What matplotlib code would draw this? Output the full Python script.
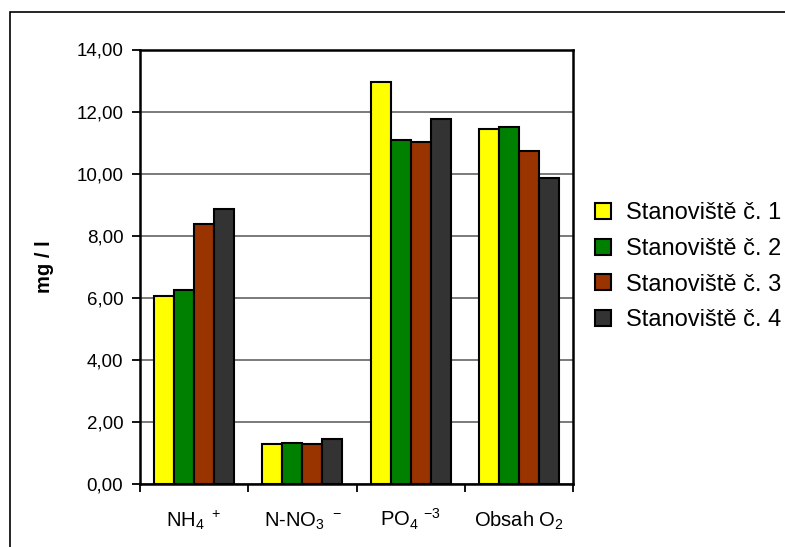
import numpy as np
import matplotlib
matplotlib.use("Agg")
from matplotlib import pyplot as plt
from matplotlib.patches import Rectangle
from matplotlib.ticker import FixedLocator

plt.rcParams['font.family'] = 'Liberation Sans'
plt.rcParams['mathtext.fontset'] = 'custom'
plt.rcParams['mathtext.rm'] = 'Liberation Sans'
plt.rcParams['mathtext.it'] = 'Liberation Sans'
plt.rcParams['mathtext.bf'] = 'Liberation Sans:bold'

categories = [r'NH$_4$ $^+$', r'N-NO$_3$ $^-$', r'PO$_4$ $^{-3}$', r'Obsah O$_2$']
series_names = ['Stanoviště č. 1', 'Stanoviště č. 2', 'Stanoviště č. 3', 'Stanoviště č. 4']
site1 = [6.05, 1.29, 12.96, 11.45]
site2 = [6.25, 1.33, 11.08, 11.51]
site3 = [8.37, 1.28, 11.03, 10.74]
site4 = [8.85, 1.45, 11.75, 9.87]
yticks = [0, 2, 4, 6, 8, 10, 12, 14]

colors = ['#FFFF00', '#008000', '#993300', '#333333']
values = [site1, site2, site3, site4]

fig = plt.figure(figsize=(7.85, 5.47), dpi=100)
ax = fig.add_axes([140 / 785, 63 / 547, 433 / 785, 434.5 / 547])

x = np.arange(len(categories))
width = 0.185
for i, vals in enumerate(values):
    ax.bar(x + (i - 1.5) * width, vals, width, color=colors[i], edgecolor='black',
           linewidth=1.5, label=series_names[i], zorder=3)

ax.set_xlim(-0.5, 3.5)
ax.set_ylim(0, 14)
ax.set_yticks(yticks)
ax.set_yticklabels([('%.2f' % v).replace('.', ',') for v in yticks])
ax.yaxis.grid(True, color='#707070', linewidth=1.3, zorder=0)
ax.set_axisbelow(True)

# category labels on a common baseline
ax.set_xticks(x)
ax.set_xticklabels([])
for xi, lab in zip(x, categories):
    ax.text(xi, -0.098, lab, transform=ax.get_xaxis_transform(), ha='center',
            va='baseline', fontsize=14.5)
ax.xaxis.set_minor_locator(FixedLocator([-0.5, 0.5, 1.5, 2.5, 3.5]))
ax.tick_params(axis='x', which='major', length=0)
ax.tick_params(axis='x', which='minor', length=6, width=1.3, direction='out')
ax.tick_params(axis='y', length=6, width=1.3, direction='out', labelsize=13.5, pad=6)

for s in ax.spines.values():
    s.set_linewidth(1.8)
    s.set_color('black')

ax.set_ylabel('mg / l', fontsize=14.5, fontweight='bold', labelpad=16)

leg = ax.legend(loc='center left', bbox_to_anchor=(1.03, 0.5), frameon=False,
                fontsize=17, handlelength=0.68, handleheight=0.68, handletextpad=0.6,
                labelspacing=0.58, borderaxespad=0)

# outer chart border
fig.patches.append(Rectangle((10 / 785, 0 - 0.1), 1.2, 1 - 12 / 547 + 0.1,
                             transform=fig.transFigure, fill=False,
                             edgecolor='black', linewidth=1.2))

fig.savefig('out.png', dpi=100)
